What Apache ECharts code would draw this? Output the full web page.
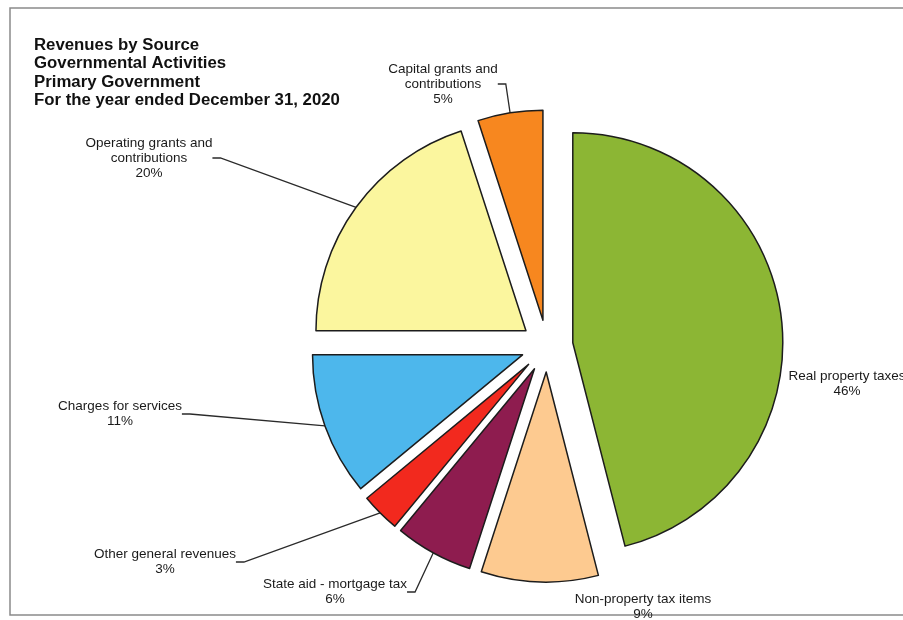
<!DOCTYPE html>
<html>
<head>
<meta charset="utf-8">
<script src="https://cdn.jsdelivr.net/npm/echarts@6/dist/echarts.min.js"></script>
<style>
  html, body { margin: 0; padding: 0; background: #fff; }
  #chart { width: 903px; height: 620px; }
</style>
</head>
<body>
<div id="chart"></div>
<script>
// data
const titleLines = [
  'Revenues by Source',
  'Governmental Activities',
  'Primary Government',
  'For the year ended December 31, 2020'
]
const categories = [
  'Real property taxes',
  'Non-property tax items',
  'State aid - mortgage tax',
  'Other general revenues',
  'Charges for services',
  'Operating grants and\ncontributions',
  'Capital grants and\ncontributions'
]
const shares = [46, 9, 6, 3, 11, 20, 5]

// styling / layout (kept apart from the data)
const sliceColors = ['#8cb634', '#fdca90', '#8e1c4f', '#f2291e', '#4db7ec', '#fbf69e', '#f7871f']
const labelCenters = [
  [847, 384], [643, 607], [335, 592], [165, 562], [120, 414], [149, 158], [443, 84]
]
const showLine = [false, false, true, true, true, true, true]
const pieCenter = [547, 346]
const pieRadius = 210
const explode = 26

const myChart = echarts.init(document.getElementById('chart'))

// every slice is pulled out from the middle, so each one gets its own pie
// whose centre is shifted along the slice's middle angle
const total = shares.reduce((a, b) => a + b, 0)
const seriesData = []
let before = 0
shares.forEach((v, i) => {
  const mid = (before + v / 2) / total * Math.PI * 2
  before += v
  const center = [
    pieCenter[0] + explode * Math.sin(mid),
    pieCenter[1] - explode * Math.cos(mid)
  ]
  const data = categories.map((name, j) => {
    if (j === i) {
      return {
        name: name,
        value: shares[j],
        itemStyle: { color: sliceColors[j], borderColor: '#1c1c1c', borderWidth: 1.5 },
        labelLine: { show: showLine[j] }
      }
    }
    return {
      name: name,
      value: shares[j],
      itemStyle: { color: 'rgba(0,0,0,0)', borderWidth: 0 },
      label: { show: false },
      labelLine: { show: false }
    }
  })
  seriesData.push({
    type: 'pie',
    center: center,
    radius: pieRadius,
    startAngle: 90,
    clockwise: true,
    avoidLabelOverlap: false,
    silent: true,
    emphasis: { disabled: true },
    percentPrecision: 0,
    label: {
      show: true,
      position: 'outside',
      formatter: '{b}\n{d}%',
      fontFamily: 'Liberation Sans, Arial, sans-serif',
      fontSize: 13.5,
      lineHeight: 15,
      color: '#1a1a1a',
      align: 'center'
    },
    labelLine: {
      show: true,
      length: 8,
      length2: 8,
      lineStyle: { color: '#2a2a2a', width: 1.3 }
    },
    labelLayout: (params) => {
      const p = labelCenters[params.dataIndex]
      return { x: p[0], y: p[1], align: 'center', verticalAlign: 'middle' }
    },
    data: data
  })
})

const myOption = {
  backgroundColor: '#fff',
  animation: false,
  graphic: [
    {
      type: 'rect',
      shape: { x: 10, y: 8, width: 905, height: 607 },
      style: { fill: 'none', stroke: '#8a8a8a', lineWidth: 1.5 },
      silent: true
    }
  ],
  title: {
    text: titleLines.join('\n'),
    left: 29,
    top: 31,
    textStyle: {
      fontFamily: 'Liberation Sans, Arial, sans-serif',
      fontSize: 16.8,
      fontWeight: 'bold',
      color: '#111',
      lineHeight: 18.5
    }
  },
  series: seriesData
}
myChart.setOption(myOption)
</script>
</body>
</html>
